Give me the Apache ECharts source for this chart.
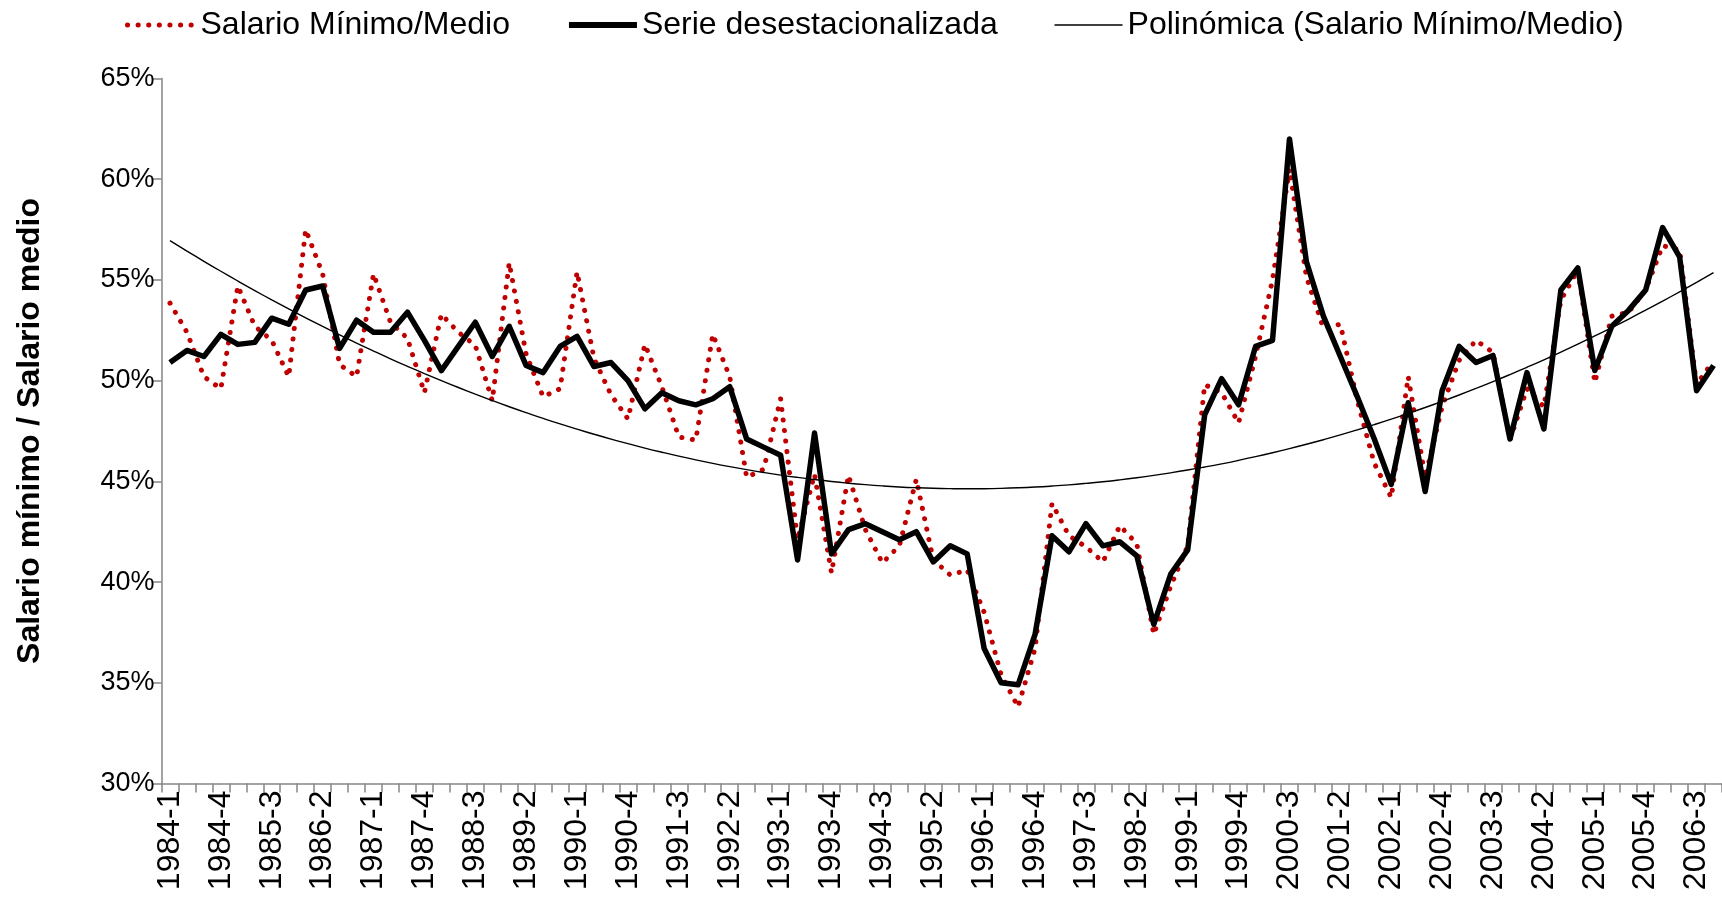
<!DOCTYPE html>
<html>
<head>
<meta charset="utf-8">
<title>Salario mínimo / Salario medio</title>
<script src="https://cdn.jsdelivr.net/npm/echarts@6/dist/echarts.min.js"></script>
<style>
  html, body { margin: 0; padding: 0; background: #fff; }
  #chart { width: 1722px; height: 912px; }
</style>
</head>
<body>
<div id="chart"></div>
<script>
// quarters 1984-1 .. 2006-4
const years = [1984, 1985, 1986, 1987, 1988, 1989, 1990, 1991, 1992, 1993, 1994, 1995,
  1996, 1997, 1998, 1999, 2000, 2001, 2002, 2003, 2004, 2005, 2006]
const quarterNames = ['1', '2', '3', '4']
const categories = years.flatMap(y => quarterNames.map(q => y + '-' + q))

// Salario Mínimo/Medio, in %
const salarioMinMedio = [
  53.85, 52.4, 50.2, 49.6, 54.7, 52.7, 52.0, 50.2, 57.5, 55.3,
  50.8, 50.2, 55.3, 52.9, 52.1, 49.4, 53.3, 52.4, 51.75, 49.0,
  55.85, 51.3, 49.2, 49.6, 55.4, 51.1, 49.3, 48.1, 51.8, 49.7,
  47.2, 47.05, 52.3, 50.2, 45.2, 45.6, 49.1, 42.1, 45.35, 40.45,
  45.3, 42.6, 40.95, 41.8, 45.1, 41.1, 40.35, 40.6, 38.5, 35.4,
  33.8, 36.7, 43.9, 42.3, 41.75, 41.0, 42.8, 41.9, 37.4, 39.8,
  41.8, 49.8, 49.4, 47.9, 51.2, 55.0, 60.5, 55.15, 52.6, 52.8,
  49.0, 45.9, 44.2, 50.2, 45.2, 48.7, 51.0, 52.0, 51.4, 47.05,
  49.6, 48.7, 54.0, 55.5, 49.9, 53.2, 53.4, 54.5, 56.7, 56.5,
  49.8, 51.0
]

// Serie desestacionalizada, in %
const serieDesest = [
  50.9, 51.5, 51.2, 52.3, 51.8, 51.9, 53.1, 52.8, 54.5, 54.7,
  51.6, 53.0, 52.4, 52.4, 53.4, 52.0, 50.5, 51.7, 52.9, 51.2,
  52.7, 50.75, 50.4, 51.7, 52.2, 50.7, 50.9, 50.0, 48.6, 49.4,
  49.0, 48.8, 49.1, 49.7, 47.1, 46.7, 46.3, 41.1, 47.4, 41.4,
  42.6, 42.9, 42.5, 42.1, 42.5, 41.0, 41.8, 41.4, 36.7, 35.0,
  34.9, 37.4, 42.3, 41.5, 42.9, 41.8, 42.0, 41.3, 37.9, 40.4,
  41.6, 48.3, 50.1, 48.8, 51.7, 52.0, 62.0, 55.9, 53.2, 51.2,
  49.2, 47.1, 44.85, 48.9, 44.5, 49.5, 51.7, 50.9, 51.25, 47.1,
  50.4, 47.6, 54.5, 55.6, 50.5, 52.7, 53.5, 54.5, 57.6, 56.15,
  49.5, 50.75
]

const yMin = 30
const yMax = 65
const yStep = 5

// trendline "Polinómica": order-2 least squares fit of the raw series, like the spreadsheet does
function polyTrend(values) {
  const s = [0, 0, 0, 0, 0]
  const t = [0, 0, 0]
  values.forEach((v, k) => {
    const x = k + 1
    for (let p = 0; p < 5; p++) s[p] += Math.pow(x, p)
    for (let p = 0; p < 3; p++) t[p] += v * Math.pow(x, p)
  })
  const m = [
    [s[0], s[1], s[2], t[0]],
    [s[1], s[2], s[3], t[1]],
    [s[2], s[3], s[4], t[2]]
  ]
  for (let c = 0; c < 3; c++) {
    for (let r = c + 1; r < 3; r++) {
      const f = m[r][c] / m[c][c]
      for (let k = c; k < 4; k++) m[r][k] -= f * m[c][k]
    }
  }
  const coef = [0, 0, 0]
  for (let r = 2; r >= 0; r--) {
    let acc = m[r][3]
    for (let k = r + 1; k < 3; k++) acc -= m[r][k] * coef[k]
    coef[r] = acc / m[r][r]
  }
  return values.map((v, k) => {
    const x = k + 1
    return +(coef[0] + coef[1] * x + coef[2] * x * x).toFixed(3)
  })
}

const trend = polyTrend(salarioMinMedio)

const font = '"Liberation Sans", Arial, sans-serif'
const axisGrey = '#868686'
const red = '#C00000'

const dotted = { color: red, width: 5, type: [0.1, 10.5], cap: 'round' }
const thick = { color: '#000', width: 5.5, join: 'round' }
const thin = { color: '#000', width: 1.4 }

const chart = echarts.init(document.getElementById('chart'), null, { renderer: 'canvas' })

chart.setOption({
  animation: false,
  backgroundColor: '#ffffff',
  textStyle: { fontFamily: font, color: '#000' },
  legend: {
    top: 4,
    left: 120,
    itemWidth: 68,
    itemHeight: 14,
    itemGap: 56,
    itemStyle: { opacity: 0 }, // no marker in the legend, line only
    textStyle: { fontFamily: font, fontSize: 32, color: '#000' },
    data: [
      { name: 'Salario Mínimo/Medio', lineStyle: dotted },
      { name: 'Serie desestacionalizada', lineStyle: { color: '#000', width: 6 } },
      { name: 'Polinómica (Salario Mínimo/Medio)', lineStyle: { color: '#000', width: 1.6 } }
    ]
  },
  grid: {
    left: 161.5,
    top: 78.5,
    width: 1566,
    height: 705
  },
  xAxis: {
    type: 'category',
    data: categories,
    boundaryGap: true,
    axisLine: { lineStyle: { color: axisGrey, width: 1.5 } },
    axisTick: {
      show: true,
      interval: 0,
      length: 9,
      lineStyle: { color: axisGrey, width: 1.5 }
    },
    axisLabel: {
      interval: 2,
      rotate: 90,
      margin: 7,
      fontFamily: font,
      fontSize: 32,
      color: '#000'
    },
    splitLine: { show: false }
  },
  yAxis: {
    type: 'value',
    min: yMin,
    max: yMax,
    interval: yStep,
    name: 'Salario mínimo / Salario medio',
    nameLocation: 'middle',
    nameGap: 115,
    nameTextStyle: { fontFamily: font, fontSize: 32, fontWeight: 'bold', color: '#000' },
    axisLine: { show: true, lineStyle: { color: axisGrey, width: 1.5 } },
    axisTick: { show: true, length: 9, lineStyle: { color: axisGrey, width: 1.5 } },
    axisLabel: {
      margin: 7,
      fontFamily: font,
      fontSize: 27,
      color: '#000',
      formatter: v => v + '%'
    },
    splitLine: { show: false }
  },
  series: [
    {
      name: 'Salario Mínimo/Medio',
      type: 'line',
      data: salarioMinMedio,
      symbol: 'none',
      lineStyle: dotted,
      itemStyle: { color: red },
      z: 2
    },
    {
      name: 'Serie desestacionalizada',
      type: 'line',
      data: serieDesest,
      symbol: 'none',
      lineStyle: thick,
      itemStyle: { color: '#000' },
      z: 3
    },
    {
      name: 'Polinómica (Salario Mínimo/Medio)',
      type: 'line',
      data: trend,
      symbol: 'none',
      smooth: true,
      lineStyle: thin,
      itemStyle: { color: '#000' },
      z: 4
    }
  ]
})
</script>
</body>
</html>
